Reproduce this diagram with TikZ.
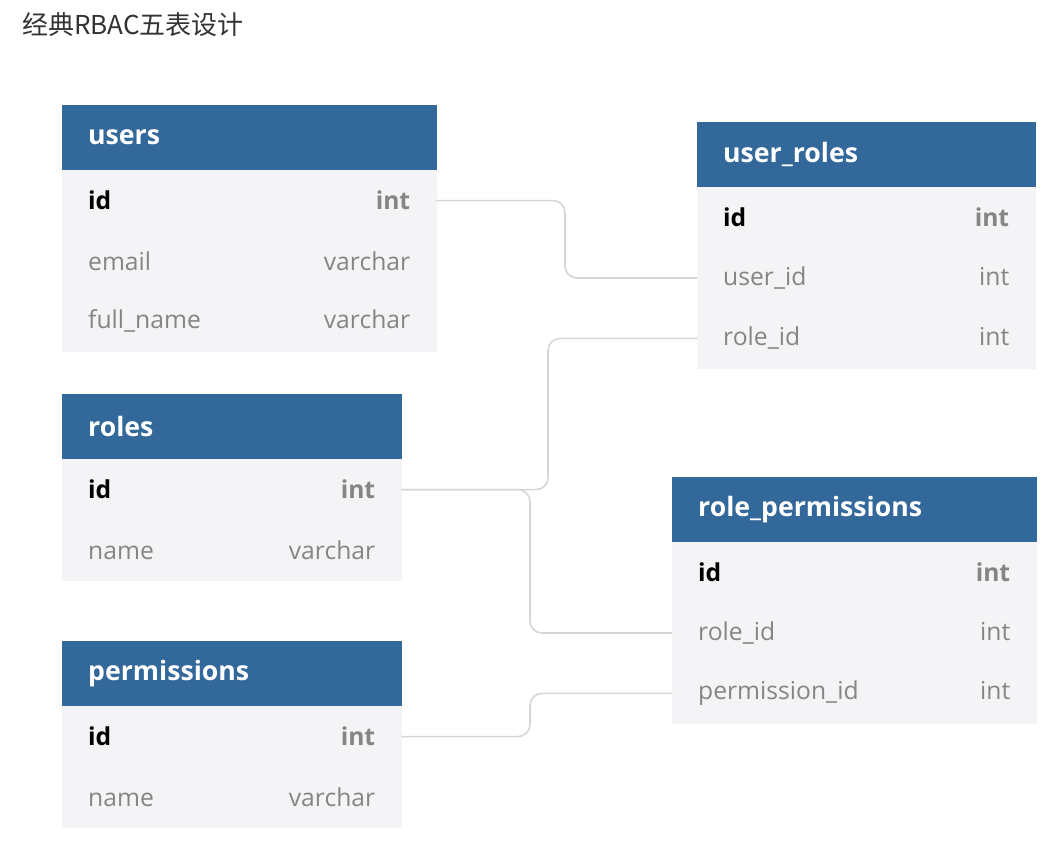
\documentclass[tikz,border=0pt]{standalone}
\usepackage{fontspec}
\setmainfont{Open Sans}
\newfontfamily\cjk{Noto Sans CJK SC}
\usetikzlibrary{positioning}
\definecolor{headblue}{HTML}{33689A}
\definecolor{rowbg}{HTML}{F4F4F6}
\definecolor{typegray}{HTML}{858585}
\definecolor{linkgray}{HTML}{D6D6D6}
\tikzset{
  head/.style={anchor=north west, fill=headblue, draw=headblue, line width=0.3pt,
    text=white, text width=#1, inner xsep=19.5pt, inner ysep=0pt,
    minimum height=48.75pt, font=\fontsize{20}{22}\selectfont\bfseries},
  field/.style={fill=rowbg, draw=rowbg, line width=0.3pt, text=typegray,
    text width=#1, inner xsep=19.5pt, inner ysep=0pt, minimum height=45pt,
    font=\fontsize{18.5}{20}\selectfont},
  link/.style={draw=linkgray, line width=1.2pt, rounded corners=9pt},
}
\newcommand{\pkey}{{\color{black}\bfseries id}\hfill{\bfseries int}}
\begin{document}
\begin{tikzpicture}[x=0.75pt, y=-0.75pt]
  \useasboundingbox (0,0) rectangle (1063,841);
  \node [anchor=west, inner sep=0pt, font=\cjk\fontsize{19.5}{24}\selectfont, text=black!80] (title) at (22,25) {经典RBAC五表设计};

  \node [head=241.5pt] (users) at (62,105) {users};
  \node [field=241.5pt, below=0pt of users] (users-id) {\pkey};
  \node [field=241.5pt, below=0pt of users-id] (users-email) {email\hfill varchar};
  \node [field=241.5pt, below=0pt of users-email] (users-name) {full\_name\hfill varchar};

  \node [head=214.5pt] (ur) at (697,122) {user\_roles};
  \node [field=214.5pt, below=0pt of ur] (ur-id) {\pkey};
  \node [field=214.5pt, below=0pt of ur-id] (ur-user) {user\_id\hfill int};
  \node [field=214.5pt, below=0pt of ur-user] (ur-role) {role\_id\hfill int};

  \node [head=215.25pt] (roles) at (62,394) {roles};
  \node [field=215.25pt, below=0pt of roles] (roles-id) {\pkey};
  \node [field=215.25pt, below=0pt of roles-id] (roles-name) {name\hfill varchar};

  \node [head=234pt] (rp) at (672,477) {role\_permissions};
  \node [field=234pt, below=0pt of rp] (rp-id) {\pkey};
  \node [field=234pt, below=0pt of rp-id] (rp-role) {role\_id\hfill int};
  \node [field=234pt, below=0pt of rp-role] (rp-perm) {permission\_id\hfill int};

  \node [head=215.25pt] (perms) at (62,641) {permissions};
  \node [field=215.25pt, below=0pt of perms] (perms-id) {\pkey};
  \node [field=215.25pt, below=0pt of perms-id] (perms-name) {name\hfill varchar};

  \draw [link] (users-id.east) -| ([xshift=-99pt]ur-user.west) -- (ur-user.west);
  \draw [link] (roles-id.east) -| ([xshift=-111.75pt]ur-role.west) -- (ur-role.west);
  \draw [link] (roles-id.east) -| ([xshift=-106.5pt]rp-role.west) -- (rp-role.west);
  \draw [link] (perms-id.east) -| ([xshift=-106.5pt]rp-perm.west) -- (rp-perm.west);
\end{tikzpicture}
\end{document}
